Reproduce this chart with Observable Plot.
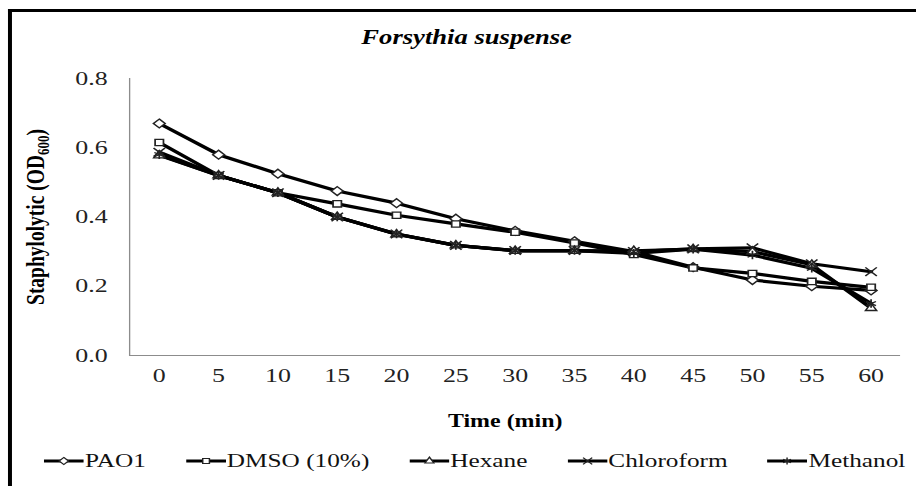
<!DOCTYPE html>
<html>
<head>
<meta charset="utf-8">
<script src="https://cdn.jsdelivr.net/npm/d3@7"></script>
<script src="https://cdn.jsdelivr.net/npm/@observablehq/plot@0.6"></script>
<style>
  html, body { margin: 0; padding: 0; background: #fff; overflow: hidden; }
  #wrap { position: absolute; left: 0; top: 0; width: 689px; height: 486px;
          transform: scaleX(1.3295); transform-origin: 0 0; font-family: "Liberation Serif", serif; }
  #frame { position: absolute; left: 6px; top: 9px; width: 700px; height: 500px;
           border-top: 3px solid #000; border-left: 3px solid #000; box-sizing: border-box; }
  #title { position: absolute; left: 351px; top: 27px; transform: translateX(-50%);
           font-family: "Liberation Serif", serif; font-style: italic; font-weight: bold;
           font-size: 20px; line-height: 20px; color: #000; white-space: nowrap; }
  #chart { position: absolute; left: 0; top: 0; }
  #legend { position: absolute; left: 33px; top: 451px; width: 648px; display: flex;
            justify-content: space-between; align-items: center;
            font-family: "Liberation Serif", serif; font-size: 19px; line-height: 20px; color: #111; }
  .item { display: inline-flex; align-items: center; white-space: nowrap; }
  .item svg { display: block; margin-right: 1px; }
</style>
</head>
<body>
<div id="wrap">
  <div id="frame"></div>
  <div id="title"></div>
  <div id="chart"></div>
  <div id="legend"></div>
</div>
<script>
// ---- data ----
const titleText = "Forsythia suspense";
const xLabel = "Time (min)";
const times = [0, 5, 10, 15, 20, 25, 30, 35, 40, 45, 50, 55, 60];
const yTicks = [0, 0.2, 0.4, 0.6, 0.8];
const seriesNames = ["PAO1", "DMSO (10%)", "Hexane", "Chloroform", "Methanol"];
const pao1       = [0.670, 0.580, 0.525, 0.475, 0.440, 0.395, 0.360, 0.330, 0.300, 0.255, 0.218, 0.200, 0.188];
const dmso       = [0.615, 0.520, 0.470, 0.438, 0.405, 0.380, 0.356, 0.325, 0.292, 0.253, 0.237, 0.214, 0.197];
const hexane     = [0.578, 0.520, 0.470, 0.400, 0.350, 0.318, 0.302, 0.302, 0.302, 0.307, 0.300, 0.262, 0.137];
const chloroform = [0.587, 0.520, 0.470, 0.400, 0.351, 0.318, 0.303, 0.303, 0.300, 0.308, 0.311, 0.265, 0.242];
const methanol   = [0.580, 0.520, 0.470, 0.400, 0.351, 0.318, 0.303, 0.303, 0.295, 0.307, 0.290, 0.252, 0.150];
const symbols = ["diamond2", "square2", "triangle2", "times", "asterisk"];

const seriesValues = [pao1, dmso, hexane, chloroform, methanol];
const data = seriesNames.flatMap((name, k) =>
  times.map((t, i) => ({series: name, time: t, value: seriesValues[k][i]})));

const chart = Plot.plot({
  width: 689,
  height: 486,
  marginLeft: 97,
  marginRight: 12,
  marginTop: 78,
  marginBottom: 131,
  style: {fontFamily: "Liberation Serif", fontSize: "19.5px", color: "#222", background: "transparent"},
  x: {domain: [-2.5, 62.5], ticks: times, tickFormat: d => String(d), tickSize: 0, tickPadding: 13, label: null},
  y: {domain: [0, 0.8], ticks: yTicks, tickFormat: d3.format(".1f"), tickSize: 0, tickPadding: 16.5, label: null},
  symbol: {domain: seriesNames, range: symbols},
  marks: [
    Plot.ruleY([0], {stroke: "#8c8c8c", strokeWidth: 1.2}),
    Plot.ruleX([-2.5], {stroke: "#8c8c8c", strokeWidth: 1}),
    Plot.line(data, {x: "time", y: "value", z: "series", stroke: "#000", strokeWidth: 3.2, strokeLinejoin: "round"}),
    Plot.dot(data, {x: "time", y: "value", symbol: "series", r: 4, fill: "white", stroke: "#222", strokeWidth: 1.3})
  ]
});

const svg = d3.select(chart);
// y axis title with subscript
const yl = svg.append("text")
  .attr("transform", "translate(26,217) rotate(-90)")
  .attr("text-anchor", "middle")
  .attr("dy", "0.35em")
  .attr("font-weight", "bold")
  .attr("font-size", 19.5)
  .attr("fill", "#000");
yl.append("tspan").text("Staphylolytic (OD");
yl.append("tspan").attr("font-size", 13).attr("dy", 4).text("600");
yl.append("tspan").attr("dy", -4).text(")");
// x axis title
svg.append("text")
  .attr("x", 380).attr("y", 427)
  .attr("text-anchor", "middle")
  .attr("font-weight", "bold")
  .attr("font-size", 18)
  .attr("fill", "#000")
  .text(xLabel);

document.getElementById("chart").appendChild(chart);
document.getElementById("title").textContent = titleText;

// legend
const legend = d3.select("#legend");
const symScale = Plot.scale({symbol: {domain: seriesNames, range: symbols}});
seriesNames.forEach((name) => {
  const item = legend.append("span").attr("class", "item");
  const s = item.append("svg").attr("width", 30).attr("height", 14);
  s.append("line").attr("x1", 0).attr("x2", 30).attr("y1", 7).attr("y2", 7)
    .attr("stroke", "#000").attr("stroke-width", 3);
  s.append("path").attr("transform", "translate(15,7)")
    .attr("d", d3.symbol(symScale.apply(name), Math.PI * 3.2 * 3.2)())
    .attr("fill", "white").attr("stroke", "#222").attr("stroke-width", 1.1);
  item.append("span").text(name);
});
</script>
</body>
</html>
